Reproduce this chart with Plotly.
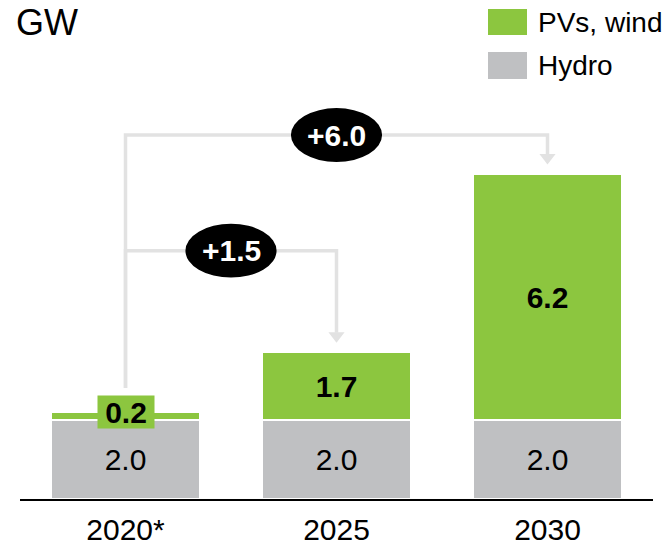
import plotly.graph_objects as go

# chart data (GW)
years = ["2020*", "2025", "2030"]
hydro = [2.0, 2.0, 2.0]
pv_wind = [0.2, 1.7, 6.2]

GREEN = "#8cc63f"
GREY = "#bfc0c2"
ARROW = "#e2e2e2"
FONT = "Arial, Liberation Sans, sans-serif"

W, H = 665, 547
ML, MR, MT, MB = 20, 12, 0, 48
YMAX = 12.6

totals = [h + p for h, p in zip(hydro, pv_wind)]
xs = list(range(len(years)))


def px_x(px):
    return (px - ML) / (W - ML - MR)


def px_y(py):
    return (H - MB - py) / (H - MT - MB)


fig = go.Figure()

fig.add_trace(go.Bar(
    x=xs, y=hydro, name="Hydro",
    marker=dict(color=GREY, line=dict(color="white", width=1.5)),
    text=[f"{v:.1f}" for v in hydro], textposition="inside",
    insidetextanchor="middle", textangle=0,
    textfont=dict(family=FONT, size=30, color="black"),
    hoverinfo="skip",
))
fig.add_trace(go.Bar(
    x=xs, y=pv_wind, name="PVs, wind",
    marker=dict(color=GREEN, line=dict(color="white", width=1.5)),
    text=[f"<b>{v:.1f}</b>" if v > 0.5 else "" for v in pv_wind],
    textposition="inside", insidetextanchor="middle", textangle=0,
    textfont=dict(family=FONT, size=30, color="black"),
    hoverinfo="skip",
))

# small 2020 value gets its own green label box
fig.add_annotation(
    x=0, y=totals[0], text=f"<b>{pv_wind[0]:.1f}</b>", showarrow=False,
    font=dict(family=FONT, size=30, color="black"),
    bgcolor=GREEN, width=56, height=32, borderpad=0,
    xanchor="center", yanchor="middle",
)

# growth arrows from 2020 to 2025 / 2030
levels = [6.27, 9.19]
targets = [1, 2]
shapes = []
tips_x, tips_y = [], []
for lvl, t in zip(levels, targets):
    shapes.append(dict(
        type="path", xref="x", yref="y",
        path=f"M 0,{totals[0] + 0.6} L 0,{lvl} L {t},{lvl} L {t},{totals[t] + 0.5}",
        line=dict(color=ARROW, width=3.5), layer="above",
    ))
    tips_x.append(t)
    tips_y.append(totals[t] + 0.42)

fig.add_trace(go.Scatter(
    x=tips_x, y=tips_y, mode="markers",
    marker=dict(symbol="triangle-down", size=14, color=ARROW),
    hoverinfo="skip", showlegend=False,
))

ew, eh = 0.216, 0.68
for lvl, t in zip(levels, targets):
    cx = t / 2
    shapes.append(dict(
        type="circle", xref="x", yref="y",
        x0=cx - ew, x1=cx + ew, y0=lvl - eh, y1=lvl + eh,
        fillcolor="black", line=dict(width=0), layer="above",
    ))
    fig.add_annotation(
        x=cx, y=lvl, text=f"<b>+{totals[t] - totals[0]:.1f}</b>",
        showarrow=False, font=dict(family=FONT, size=30, color="white"),
    )

# legend swatches
legend_items = [("PVs, wind", GREEN, 9, 35), ("Hydro", GREY, 52, 79)]
for label, col, top, bot in legend_items:
    shapes.append(dict(
        type="rect", xref="paper", yref="paper",
        x0=px_x(488), x1=px_x(527), y0=px_y(bot), y1=px_y(top),
        fillcolor=col, line=dict(width=0),
    ))
    fig.add_annotation(
        xref="paper", yref="paper", x=px_x(536), y=px_y((top + bot) / 2),
        text=label, showarrow=False, xanchor="left", yanchor="middle",
        font=dict(family=FONT, size=28, color="black"),
    )

fig.add_annotation(
    xref="paper", yref="paper", x=px_x(14), y=px_y(22),
    text="GW", showarrow=False, xanchor="left", yanchor="middle",
    font=dict(family=FONT, size=36, color="black"),
)

fig.update_layout(
    width=W, height=H,
    margin=dict(l=ML, r=MR, t=MT, b=MB),
    barmode="stack", bargap=0.3,
    plot_bgcolor="white", paper_bgcolor="white",
    showlegend=False, shapes=shapes,
    xaxis=dict(
        range=[-0.5, 2.5], tickvals=xs, ticktext=years,
        showline=True, linecolor="black", linewidth=2,
        showgrid=False, zeroline=False, automargin=False,
        ticks="outside", ticklen=3, tickcolor="rgba(0,0,0,0)",
        tickfont=dict(family=FONT, size=30, color="black"),
    ),
    yaxis=dict(range=[0, YMAX], visible=False, automargin=False),
)

# drop the default page margin so the figure sits at the window's corner
fig.write_html(
    "out.html",
    config={"displayModeBar": False},
    post_script="document.body.style.margin='0';",
)
